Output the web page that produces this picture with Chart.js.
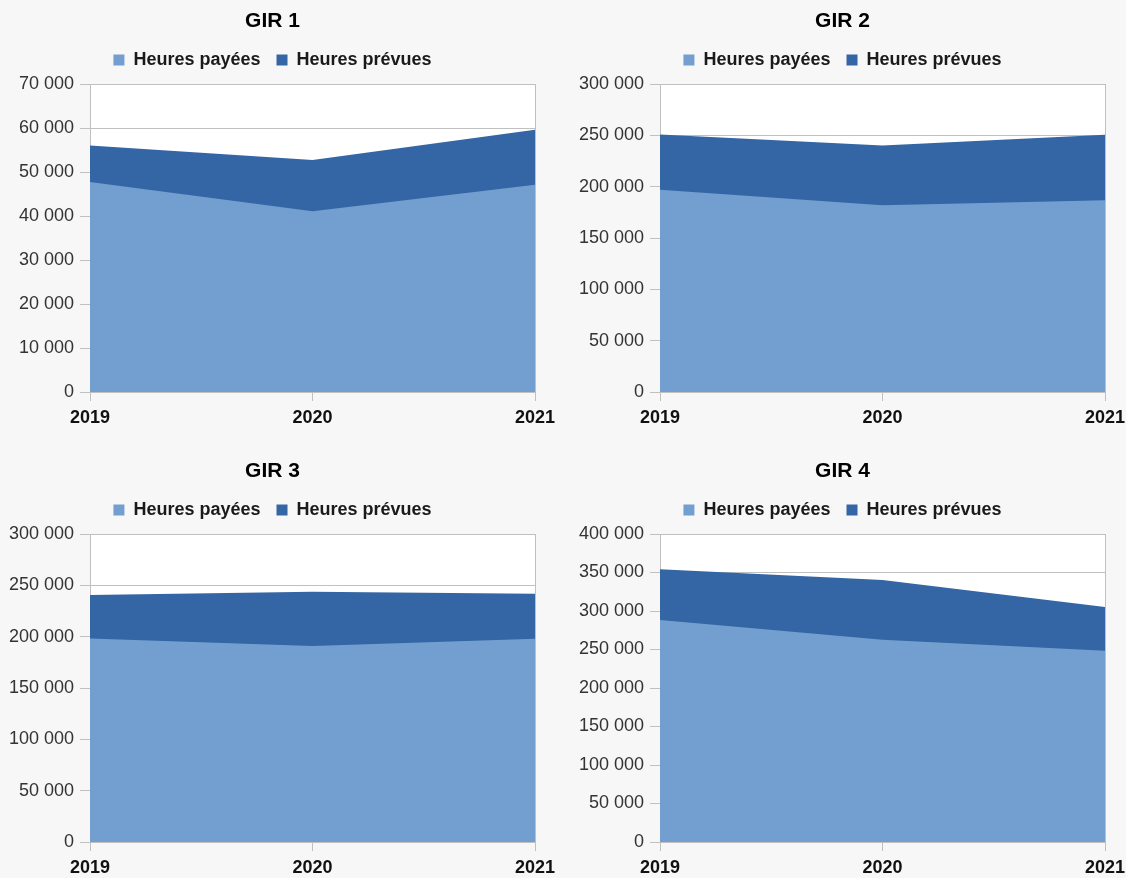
<!DOCTYPE html>
<html>
<head>
<meta charset="utf-8">
<script src="https://cdn.jsdelivr.net/npm/chart.js@4/dist/chart.umd.min.js"></script>
<style>
  html, body { margin: 0; padding: 0; background: #f7f7f7; overflow: hidden; }
  body { width: 1126px; height: 878px; position: relative; }
  canvas { position: absolute; }
</style>
</head>
<body>
<canvas id="c1" width="562" height="436" style="left:0px;top:0px"></canvas>
<canvas id="c2" width="562" height="436" style="left:570px;top:0px"></canvas>
<canvas id="c3" width="562" height="436" style="left:0px;top:450px"></canvas>
<canvas id="c4" width="562" height="436" style="left:570px;top:450px"></canvas>
<script>
// ---- Data ----
const years = ['2019', '2020', '2021'];
const seriesNames = ['Heures payées', 'Heures prévues'];
const titles = ['GIR 1', 'GIR 2', 'GIR 3', 'GIR 4'];

const gir1Payees  = [47700, 41100, 47100];
const gir1Prevues = [56000, 52700, 59600];
const gir2Payees  = [196900, 182000, 186800];
const gir2Prevues = [250700, 240000, 250500];
const gir3Payees  = [198300, 190900, 198000];
const gir3Prevues = [240500, 243800, 241800];
const gir4Payees  = [288300, 262800, 248500];
const gir4Prevues = [354100, 340300, 305200];

const yMax  = [70000, 300000, 300000, 400000];
const yStep = [10000, 50000, 50000, 50000];

// ---- Styles ----
const colPayees = '#729fcf';
const colPrevues = '#3465a4';
const gridCol = '#c0c0c0';
const FONT = '"Liberation Sans", Arial, sans-serif';

const plotBg = {
  id: 'plotBg',
  beforeDraw(chart) {
    const a = chart.chartArea; const ctx = chart.ctx;
    ctx.save(); ctx.fillStyle = '#ffffff';
    ctx.fillRect(a.left, a.top, a.right - a.left, a.bottom - a.top);
    ctx.restore();
  }
};
const legendGap = {
  id: 'legendGap',
  beforeLayout(chart) {
    const lg = chart.legend;
    if (lg && !lg._gapPatched) {
      const fit = lg.fit;
      lg.fit = function () { fit.call(this); this.height += 5; };
      lg._gapPatched = true;
    }
  }
};

function fmt(v) {
  return String(Math.round(v)).replace(/\B(?=(\d{3})+(?!\d))/g, ' ');
}

function makeChart(id, title, payees, prevues, max, step) {
  new Chart(document.getElementById(id), {
    type: 'line',
    data: {
      labels: years,
      datasets: [
        { label: seriesNames[0], data: payees, backgroundColor: colPayees, borderColor: colPayees,
          borderWidth: 0, pointRadius: 0, fill: 'origin', tension: 0 },
        { label: seriesNames[1], data: prevues, backgroundColor: colPrevues, borderColor: colPrevues,
          borderWidth: 0, pointRadius: 0, fill: 'origin', tension: 0 }
      ]
    },
    options: {
      responsive: false,
      animation: false,
      devicePixelRatio: 1,
      events: [],
      layout: { padding: { left: 0, right: 17, top: 0, bottom: 1.4 } },
      plugins: {
        title: {
          display: true, text: title, color: '#000',
          font: { family: FONT, size: 21, weight: 'bold' },
          padding: { top: 8.4, bottom: 1.4 }
        },
        legend: {
          display: true, position: 'top',
          labels: {
            boxWidth: 11, boxHeight: 11, padding: 16, color: '#1a1a1a',
            font: { family: FONT, size: 18, weight: 'bold' }
          }
        },
        tooltip: { enabled: false }
      },
      scales: {
        x: {
          offset: false,
          grid: { display: true, drawOnChartArea: false, drawTicks: true, tickLength: 9, tickColor: gridCol },
          border: { display: true, color: gridCol },
          ticks: { color: '#111', padding: 6, font: { family: FONT, size: 18, weight: 'bold' }, maxRotation: 0, autoSkip: false }
        },
        y: {
          min: 0, max: max,
          afterFit(s) { s.width = 90; },
          grid: { color: gridCol, tickColor: gridCol, tickLength: 10, drawTicks: true },
          border: { display: true, color: gridCol },
          ticks: { stepSize: step, color: '#333', padding: 6, font: { family: FONT, size: 18 },
                   callback: (v) => fmt(v) }
        },
        y2: {
          position: 'right', display: true,
          afterFit(s) { s.width = 10; },
          grid: { drawOnChartArea: false, drawTicks: false },
          border: { display: true, color: gridCol },
          ticks: { display: false }
        }
      }
    },
    plugins: [plotBg, legendGap]
  });
}

makeChart('c1', titles[0], gir1Payees, gir1Prevues, yMax[0], yStep[0]);
makeChart('c2', titles[1], gir2Payees, gir2Prevues, yMax[1], yStep[1]);
makeChart('c3', titles[2], gir3Payees, gir3Prevues, yMax[2], yStep[2]);
makeChart('c4', titles[3], gir4Payees, gir4Prevues, yMax[3], yStep[3]);
</script>
</body>
</html>
